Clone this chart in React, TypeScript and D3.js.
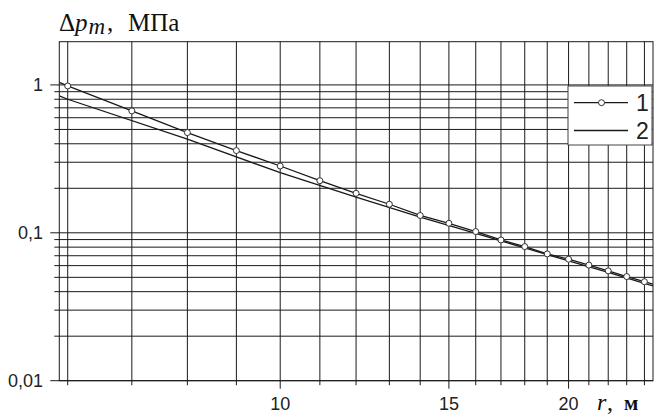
import * as d3 from "d3";
import React, { useRef, useEffect } from "react";

// curve 1 (with markers)
const radius1 = [5.88, 6, 7, 8, 9, 10, 11, 12, 13, 14, 15, 16, 17, 18, 19, 20, 21, 22, 23, 24, 24.5];
const pressure1 = [1.04, 0.984, 0.667, 0.476, 0.36, 0.283, 0.225, 0.185, 0.156, 0.131, 0.116, 0.102, 0.0895, 0.0807, 0.072, 0.0663, 0.0605, 0.0553, 0.0506, 0.0467, 0.045];

// curve 2 (plain line)
const radius2 = [5.88, 6, 8, 10, 12, 14, 16, 18, 20, 22, 24, 24.5];
const pressure2 = [0.843, 0.8, 0.43, 0.255, 0.174, 0.1275, 0.099, 0.079, 0.0645, 0.054, 0.0455, 0.0437];

const yTickValues = [1, 0.1, 0.01];
const yTickLabels = ["1", "0,1", "0,01"];
const xTickValues = [10, 15, 20];
const xTickLabels = ["10", "15", "20"];
const legendLabels = ["1", "2"];

const App = () => {
    const svgRef = useRef<SVGSVGElement>(null);

    useEffect(() => {
        const width = 654;
        const height = 416;
        const marginLeft = 59.3;
        const marginRight = 1;
        const marginTop = 41.7;
        const marginBottom = 35.3;
        const ink = "#1a1a1a";
        const sans = "'Liberation Sans', Arial, sans-serif";
        const serif = "'Liberation Serif', 'Times New Roman', serif";

        const x = d3.scaleLog()
            .domain([5.88, 24.5])
            .range([marginLeft, width - marginRight]);

        const y = d3.scaleLog()
            .domain([0.01, 1.96])
            .range([height - marginBottom, marginTop]);

        const svg = d3.select(svgRef.current);
        svg.selectAll("*").remove();

        const left = x.range()[0];
        const right = x.range()[1];
        const top = y.range()[1];
        const bottom = y.range()[0];

        // vertical grid lines, one per metre, running down into the ticks
        const xGrid = d3.range(6, 25);
        svg.append("g")
            .selectAll("line")
            .data(xGrid)
            .join("line")
            .attr("x1", d => x(d))
            .attr("x2", d => x(d))
            .attr("y1", top)
            .attr("y2", d => bottom + (xTickValues.includes(d) ? 8 : 4.5))
            .attr("stroke", ink)
            .attr("stroke-width", 1);

        // horizontal grid lines on the log scale
        const yGrid = y.ticks();
        svg.append("g")
            .selectAll("line")
            .data(yGrid)
            .join("line")
            .attr("x1", d => left - (yTickValues.some(v => Math.abs(v - d) < 1e-9) ? 9 : 5))
            .attr("x2", right)
            .attr("y1", d => y(d))
            .attr("y2", d => y(d))
            .attr("stroke", ink)
            .attr("stroke-width", 1);

        // frame
        svg.append("rect")
            .attr("x", left)
            .attr("y", top)
            .attr("width", right - left)
            .attr("height", bottom - top)
            .attr("fill", "none")
            .attr("stroke", ink)
            .attr("stroke-width", 1);

        // y tick labels
        svg.append("g")
            .attr("font-family", sans)
            .attr("font-size", 18)
            .attr("fill", "#222")
            .selectAll("text")
            .data(yTickValues)
            .join("text")
            .attr("x", 43)
            .attr("y", d => y(d))
            .attr("dy", "0.35em")
            .attr("text-anchor", "end")
            .text((d, i) => yTickLabels[i]);

        // x tick labels
        svg.append("g")
            .attr("font-family", sans)
            .attr("font-size", 18)
            .attr("fill", "#222")
            .selectAll("text")
            .data(xTickValues)
            .join("text")
            .attr("x", d => x(d))
            .attr("y", 410)
            .attr("text-anchor", "middle")
            .text((d, i) => xTickLabels[i]);

        // axis titles
        const title = svg.append("text")
            .attr("y", 30.5)
            .attr("font-family", serif)
            .attr("font-size", 25)
            .attr("fill", "#111");
        title.append("tspan").attr("x", 59).text("Δ");
        title.append("tspan").attr("x", 75).attr("font-style", "italic").text("p");
        title.append("tspan").attr("x", 88.5).attr("font-style", "italic").attr("font-size", 23).attr("dy", 3).text("m");
        title.append("tspan").attr("x", 107).attr("dy", -3).text(",");
        title.append("tspan").attr("x", 128).text("МПа");

        const xTitle = svg.append("text")
            .attr("y", 410)
            .attr("font-family", serif)
            .attr("font-size", 24)
            .attr("fill", "#111");
        xTitle.append("tspan").attr("x", 597).attr("font-style", "italic").text("r");
        xTitle.append("tspan").attr("x", 607).text(",");
        xTitle.append("tspan").attr("x", 624).attr("font-weight", "bold").attr("font-size", 21).text("м");

        // clip the curves to the plot area
        svg.append("clipPath")
            .attr("id", "plot-clip")
            .append("rect")
            .attr("x", left)
            .attr("y", top)
            .attr("width", right - left)
            .attr("height", bottom - top);

        const series1 = radius1.map((r, i) => ({ r, p: pressure1[i] }));
        const series2 = radius2.map((r, i) => ({ r, p: pressure2[i] }));

        const line = d3.line<{ r: number; p: number }>()
            .x(d => x(d.r))
            .y(d => y(d.p));

        const plot = svg.append("g").attr("clip-path", "url(#plot-clip)");

        plot.append("path")
            .datum(series2)
            .attr("d", line)
            .attr("fill", "none")
            .attr("stroke", ink)
            .attr("stroke-width", 1.3);

        plot.append("path")
            .datum(series1)
            .attr("d", line)
            .attr("fill", "none")
            .attr("stroke", ink)
            .attr("stroke-width", 1.3);

        plot.append("g")
            .selectAll("circle")
            .data(series1.filter(d => d.r >= 6 && d.r <= 24))
            .join("circle")
            .attr("cx", d => x(d.r))
            .attr("cy", d => y(d.p))
            .attr("r", 3)
            .attr("fill", "#fff")
            .attr("stroke", "#333")
            .attr("stroke-width", 1);

        // legend
        const legend = svg.append("g");
        legend.append("rect")
            .attr("x", 568)
            .attr("y", 86)
            .attr("width", 84)
            .attr("height", 59)
            .attr("fill", "#fff")
            .attr("stroke", "#444")
            .attr("stroke-width", 1);

        const rows = legend.selectAll("g.row")
            .data(legendLabels)
            .join("g")
            .attr("class", "row")
            .attr("transform", (d, i) => `translate(0,${i === 0 ? 102.7 : 130.5})`);

        rows.append("line")
            .attr("x1", 574)
            .attr("x2", 628)
            .attr("stroke", ink)
            .attr("stroke-width", 1.3);

        rows.filter((d, i) => i === 0)
            .append("circle")
            .attr("cx", 601.5)
            .attr("r", 3)
            .attr("fill", "#fff")
            .attr("stroke", "#333");

        rows.append("text")
            .attr("x", 636)
            .attr("dy", "0.36em")
            .attr("font-family", sans)
            .attr("font-size", 23)
            .attr("fill", "#222")
            .text(d => d);
    }, []);

    return (
        <svg
            ref={svgRef}
            width={654}
            height={416}
            style={{ position: "absolute", left: 0, top: 0, background: "#fff" }}
        />
    );
};

export default App;
